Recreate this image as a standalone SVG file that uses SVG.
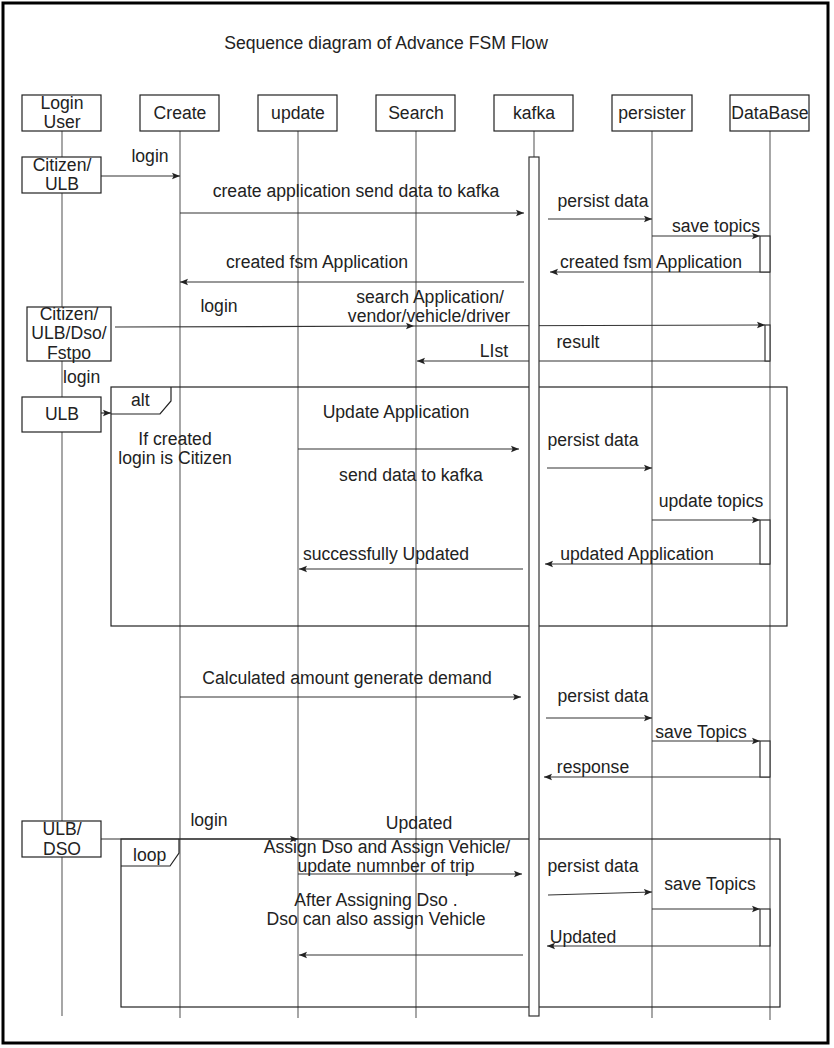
<svg xmlns="http://www.w3.org/2000/svg" width="834" height="1048" viewBox="0 0 834 1048">
<defs>
<marker id="ah" viewBox="0 0 10 10" refX="10" refY="5" markerWidth="8" markerHeight="8" orient="auto" markerUnits="userSpaceOnUse">
<path d="M0,1 L10,5 L0,9 L2,5 Z" fill="#222"/>
</marker>
<style>
text{font-family:"Liberation Sans",Arial,sans-serif;font-size:17.6px;fill:#222}
.m{text-anchor:middle}
.life{stroke:#777;stroke-width:1.3;fill:none}
.box{fill:#fff;stroke:#222;stroke-width:1.2}
.msg{stroke:#333;stroke-width:1.2;fill:none;marker-end:url(#ah)}
.ln{stroke:#333;stroke-width:1.2;fill:none}
.frame{fill:none;stroke:#222;stroke-width:1.2}
.act{fill:#fff;stroke:#333;stroke-width:1.2}
</style>
</defs>
<rect x="0" y="0" width="834" height="1048" fill="#fff"/>
<rect x="3" y="3" width="825" height="1040" fill="none" stroke="#000" stroke-width="3"/>
<text class="m" x="386" y="49" font-size="18.7">Sequence diagram of Advance FSM Flow</text>

<g id="lifelines">
<line class="life" x1="62" y1="131" x2="62" y2="1016"/>
<line class="life" x1="180" y1="131" x2="180" y2="1018"/>
<line class="life" x1="298" y1="131" x2="298" y2="1018"/>
<line class="life" x1="416" y1="131" x2="416" y2="1018"/>
<line class="life" x1="534" y1="131" x2="534" y2="157"/>
<line class="life" x1="652" y1="131" x2="652" y2="1018"/>
<line class="life" x1="770" y1="131" x2="770" y2="1020"/>
</g>

<g id="frames">
<rect class="frame" x="111" y="387" width="676" height="239"/>
<path class="frame" d="M111,414 L160,414 L171,401 L171,387"/>
<text x="131" y="406">alt</text>
<rect class="frame" x="121" y="839" width="659" height="168"/>
<path class="frame" d="M121,866 L170,866 L179,853 L179,839"/>
<text x="133" y="861">loop</text>
</g>

<g id="connectors">
<line class="msg" x1="101" y1="176" x2="180" y2="176"/>
<line class="msg" x1="180" y1="213" x2="524" y2="213"/>
<line class="msg" x1="548" y1="219" x2="652" y2="219"/>
<line class="msg" x1="652" y1="236" x2="760" y2="236"/>
<line class="msg" x1="770" y1="272" x2="550" y2="272"/>
<line class="msg" x1="524" y1="282" x2="180" y2="282"/>
<line class="msg" x1="115" y1="327" x2="414" y2="326"/>
<line class="msg" x1="414" y1="326" x2="765" y2="325"/>
<line class="msg" x1="770" y1="361" x2="417" y2="361"/>
<line class="msg" x1="101" y1="413" x2="111" y2="413"/>
<line class="msg" x1="298" y1="449" x2="519" y2="449"/>
<line class="msg" x1="547" y1="468" x2="652" y2="468"/>
<line class="msg" x1="652" y1="520" x2="760" y2="520"/>
<line class="msg" x1="770" y1="564" x2="545" y2="564"/>
<line class="msg" x1="523" y1="569" x2="299" y2="569"/>
<line class="msg" x1="180" y1="697" x2="521" y2="697"/>
<line class="msg" x1="546" y1="718" x2="652" y2="718"/>
<line class="msg" x1="652" y1="741" x2="760" y2="741"/>
<line class="msg" x1="770" y1="777" x2="544" y2="777"/>
<line class="msg" x1="101" y1="839" x2="298" y2="839"/>
<line class="msg" x1="298" y1="874" x2="522" y2="874"/>
<line class="msg" x1="523" y1="955" x2="299" y2="955"/>
<line class="msg" x1="548" y1="895" x2="652" y2="892"/>
<line class="msg" x1="652" y1="909" x2="760" y2="909"/>
<line class="msg" x1="760" y1="946" x2="547" y2="946"/>
</g>

<g id="activations">
<rect id="kafka-bar" class="act" x="529" y="157" width="10" height="859"/>
<rect class="act" x="760" y="236" width="10" height="36"/>
<rect class="act" x="765" y="325" width="5" height="36"/>
<rect class="act" x="760" y="520" width="10" height="44"/>
<rect class="act" x="760" y="741" width="10" height="36"/>
<rect class="act" x="760" y="909" width="10" height="37"/>
</g>

<g id="login-user">
<rect class="box" x="22" y="95" width="79" height="36"/>
<text class="m" x="62" y="109">Login</text>
<text class="m" x="62" y="128">User</text>
</g>
<g id="create">
<rect class="box" x="140" y="95" width="79" height="36"/>
<text class="m" x="180" y="119">Create</text>
</g>
<g id="update">
<rect class="box" x="258" y="95" width="79" height="36"/>
<text class="m" x="298" y="119">update</text>
</g>
<g id="search">
<rect class="box" x="376" y="95" width="79" height="36"/>
<text class="m" x="416" y="119">Search</text>
</g>
<g id="kafka">
<rect class="box" x="494" y="95" width="79" height="36"/>
<text class="m" x="534" y="119">kafka</text>
</g>
<g id="persister">
<rect class="box" x="612" y="95" width="80" height="36"/>
<text class="m" x="652" y="119">persister</text>
</g>
<g id="database">
<rect class="box" x="730" y="95" width="79" height="36"/>
<text class="m" x="770" y="119">DataBase</text>
</g>

<g id="citizen-ulb">
<rect class="box" x="22" y="157" width="79" height="36"/>
<text class="m" x="62" y="171">Citizen/</text>
<text class="m" x="62" y="190">ULB</text>
</g>
<g id="citizen-ulb-dso-fstpo">
<rect class="box" x="27" y="307" width="84" height="54"/>
<text class="m" x="69" y="320">Citizen/</text>
<text class="m" x="69" y="339">ULB/Dso/</text>
<text class="m" x="69" y="359">Fstpo</text>
</g>
<g id="ulb">
<rect class="box" x="22" y="397" width="79" height="35"/>
<text class="m" x="62" y="420">ULB</text>
</g>
<g id="ulb-dso">
<rect class="box" x="22" y="821" width="79" height="36"/>
<text class="m" x="62" y="835">ULB/</text>
<text class="m" x="62" y="855">DSO</text>
</g>

<g id="labels">
<text class="m" x="150" y="162">login</text>
<text class="m" x="356" y="197">create application send data to kafka</text>
<text class="m" x="603" y="207">persist data</text>
<text class="m" x="716" y="232">save topics</text>
<text class="m" x="651" y="268">created fsm Application</text>
<text class="m" x="317" y="268">created fsm Application</text>
<text class="m" x="219" y="312">login</text>
<text class="m" x="430" y="303">search Application/</text>
<text class="m" x="429" y="322">vendor/vehicle/driver</text>
<text class="m" x="578" y="348">result</text>
<text class="m" x="494" y="357">LIst</text>
<text x="63" y="383">login</text>
<text class="m" x="175" y="445">If created</text>
<text class="m" x="175" y="464">login is Citizen</text>
<text class="m" x="396" y="418">Update Application</text>
<text class="m" x="411" y="481">send data to kafka</text>
<text class="m" x="593" y="446">persist data</text>
<text class="m" x="711" y="507">update topics</text>
<text class="m" x="637" y="560">updated Application</text>
<text class="m" x="386" y="560">successfully Updated</text>
<text class="m" x="347" y="684">Calculated amount generate demand</text>
<text class="m" x="603" y="702">persist data</text>
<text class="m" x="701" y="738">save Topics</text>
<text class="m" x="593" y="773">response</text>
<text class="m" x="209" y="826">login</text>
<text class="m" x="419" y="829">Updated</text>
<text class="m" x="387" y="853">Assign Dso and Assign Vehicle/</text>
<text class="m" x="386" y="872">update numnber of trip</text>
<text class="m" x="376" y="906">After Assigning Dso .</text>
<text class="m" x="376" y="925">Dso can also assign Vehicle</text>
<text class="m" x="593" y="872">persist data</text>
<text class="m" x="710" y="890">save Topics</text>
<text class="m" x="583" y="943">Updated</text>
</g>
</svg>
